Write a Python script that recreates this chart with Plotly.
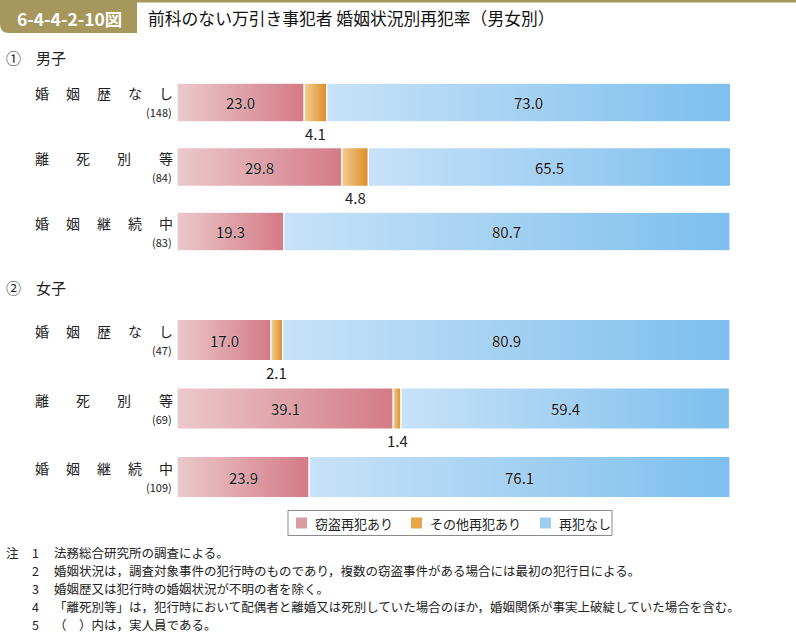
import plotly.graph_objects as go

# ---------------- data ----------------
categories = ["婚姻歴なし", "離死別等", "婚姻継続中"]
male_n = [148, 84, 83]
female_n = [47, 69, 109]
male_theft = [23.0, 29.8, 19.3]
male_other = [4.1, 4.8, 0.0]
male_none = [73.0, 65.5, 80.7]
female_theft = [17.0, 39.1, 23.9]
female_other = [2.1, 1.4, 0.0]
female_none = [80.9, 59.4, 76.1]
series_names = ["窃盗再犯あり", "その他再犯あり", "再犯なし"]
notes = [
    ("注", "1", "法務総合研究所の調査による。"),
    ("", "2", "婚姻状況は，調査対象事件の犯行時のものであり，複数の窃盗事件がある場合には最初の犯行日による。"),
    ("", "3", "婚姻歴又は犯行時の婚姻状況が不明の者を除く。"),
    ("", "4", "「離死別等」は，犯行時において配偶者と離婚又は死別していた場合のほか，婚姻関係が事実上破綻していた場合を含む。"),
    ("", "5", "（　）内は，実人員である。"),
]

# ---------------- styling ----------------
W, H = 796, 634
FONT = "Noto Sans CJK JP"
grads = [
    [[0, "#ebc9cc"], [1, "#d47a85"]],
    [[0, "#f1cd92"], [1, "#dd8d28"]],
    [[0, "#c8e2f7"], [1, "#7dbfee"]],
]
legend_cols = ["#dc9aa3", "#e7a648", "#9ccdf2"]
KHAKI = "#a6975c"
TXT = "#222"
HALF = 0.3
HALO = "0 0 1px #fff"


def px(x):
    return x / W


def py(y):
    return 1 - y / H


def note(x, y, text, size, xanchor="left", color=TXT):
    return dict(x=px(x), y=py(y), xref="paper", yref="paper", xanchor=xanchor, yanchor="middle",
                text=text, showarrow=False, font=dict(size=size, color=color, family=FONT))


fig = go.Figure()
annotations = []
shapes = []

panels = [
    ("y", "y", [male_theft, male_other, male_none], male_n),
    ("y2", "y2", [female_theft, female_other, female_none], female_n),
]
for yname, yref, vals, counts in panels:
    for i in range(len(categories)):
        left = 0.0
        for s in range(3):
            v = vals[s][i]
            if v <= 0:
                continue
            x0, x1 = left, left + v
            fig.add_trace(go.Scatter(
                x=[x0, x1, x1, x0, x0],
                y=[i - HALF, i - HALF, i + HALF, i + HALF, i - HALF],
                yaxis=yname, xaxis="x",
                mode="lines", fill="toself",
                line=dict(color="white", width=1.2),
                fillgradient=dict(type="horizontal", colorscale=grads[s], start=x0, stop=x1),
                fillcolor=legend_cols[s],
                name=series_names[s], showlegend=False,
                hoverinfo="skip",
            ))
            mid = (x0 + x1) / 2
            if s == 1:
                annotations.append(dict(
                    x=mid, y=i + HALF, xref="x", yref=yref, xanchor="center", yanchor="top", yshift=1,
                    text=f"{v:.1f}", showarrow=False,
                    font=dict(size=15, color=TXT, family=FONT)))
            else:
                annotations.append(dict(
                    x=mid, y=i, xref="x", yref=yref, xanchor="center", yanchor="middle",
                    text=f"{v:.1f}", showarrow=False,
                    font=dict(size=15, color="#111", family=FONT, shadow=HALO)))
            left = x1
        # category label (justified characters)
        cat = categories[i]
        n = len(cat)
        lft, rgt, cw = 35, 172, 13
        step = (rgt - lft - cw) / (n - 1)
        for k, ch in enumerate(cat):
            annotations.append(dict(
                x=px(lft + cw / 2 + k * step), y=i, xref="paper", yref=yref,
                xanchor="center", yanchor="middle",
                yshift=9, text=ch, showarrow=False,
                font=dict(size=14, color=TXT, family=FONT)))
        annotations.append(dict(
            x=px(174), y=i, xref="paper", yref=yref, xanchor="right", yanchor="middle",
            yshift=-10, text=f"({counts[i]})", showarrow=False,
            font=dict(size=11, color=TXT, family=FONT)))

# section headers
annotations.append(note(4, 58, "①　男子", 15))
annotations.append(note(4, 287, "②　女子", 15))

# title
shapes.append(dict(type="rect", xref="paper", yref="paper", x0=0, x1=1, y0=py(2.5), y1=py(0),
                   fillcolor=KHAKI, line=dict(width=0)))
r = 9
path = (f"M {px(0)},{py(0)} L {px(137)},{py(0)} L {px(137)},{py(33)} "
        f"L {px(r)},{py(33)} Q {px(0)},{py(33)} {px(0)},{py(33 - r)} Z")
shapes.append(dict(type="path", xref="paper", yref="paper", path=path,
                   fillcolor=KHAKI, line=dict(width=0)))
annotations.append(note(15, 18, "<b>6-4-4-2-10図</b>", 17.5, color="white"))
annotations.append(note(146, 18, "前科のない万引き事犯者 婚姻状況別再犯率（男女別）", 16.8, color="#111"))

# legend (drawn manually to match the boxed layout)
shapes.append(dict(type="rect", xref="paper", yref="paper", x0=px(288), x1=px(612),
                   y0=py(535.5), y1=py(510.5), line=dict(color="#8a8a8a", width=1),
                   fillcolor="white"))
leg_sw = [296, 411, 540]
leg_tx = [313, 428, 557]
for s in range(3):
    shapes.append(dict(type="rect", xref="paper", yref="paper",
                       x0=px(leg_sw[s]), x1=px(leg_sw[s] + 11), y0=py(528.5), y1=py(517.5),
                       fillcolor=legend_cols[s], line=dict(width=0)))
    annotations.append(note(leg_tx[s], 523, series_names[s], 13))

# notes
for j, (a, b, t) in enumerate(notes):
    y = 552 + j * 18
    if a:
        annotations.append(note(4, y, a, 12.5))
    annotations.append(note(35, y, b, 12.5, xanchor="center"))
    annotations.append(note(52, y, t, 12.5))

axis_common = dict(showgrid=False, zeroline=False, showticklabels=False, ticks="", showline=False,
                   fixedrange=True)
fig.update_layout(
    width=W, height=H,
    margin=dict(l=0, r=0, t=0, b=0),
    paper_bgcolor="white", plot_bgcolor="white",
    xaxis=dict(domain=[px(177), px(730)], range=[0, 100], **axis_common),
    yaxis=dict(domain=[py(263.75), py(70.25)], range=[2.5, -0.5], **axis_common),
    yaxis2=dict(domain=[py(511.25), py(305.75)], range=[2.5, -0.5], **axis_common),
    showlegend=False,
    annotations=annotations,
    shapes=shapes,
    font=dict(family=FONT),
)

fig.write_html("out.html", config={"displayModeBar": False},
               post_script="document.body.style.margin='0';document.body.style.overflow='hidden';")
